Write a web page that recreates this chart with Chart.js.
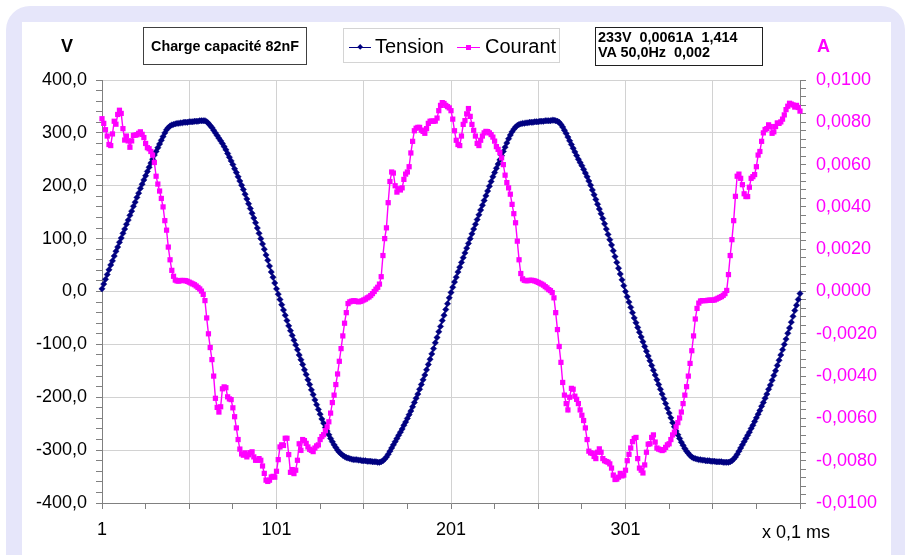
<!DOCTYPE html>
<html><head><meta charset="utf-8">
<script src="https://cdn.jsdelivr.net/npm/chart.js@4/dist/chart.umd.min.js"></script>
<style>
html,body{margin:0;padding:0;background:#fff;width:911px;height:555px;overflow:hidden;font-family:"Liberation Sans",Arial,sans-serif;}
#frame{position:absolute;left:6px;top:6px;width:899px;height:640px;background:#E6E6FA;border-radius:24px;}
#panel{position:absolute;left:22px;top:22px;width:869px;height:600px;background:#fff;}
canvas{position:absolute;left:0;top:0;}
.t{position:absolute;white-space:pre;}
.box{position:absolute;box-sizing:border-box;}
</style></head><body>
<div id="frame"></div><div id="panel"></div>
<canvas id="c" width="911" height="555"></canvas>

<div class="t" style="left:61px;top:37px;font:bold 18px/18px 'Liberation Sans';color:#000;">V</div>
<div class="t" style="left:817px;top:37px;font:bold 18px/18px 'Liberation Sans';color:#FF00FF;">A</div>

<div class="box" style="left:143px;top:27px;width:164px;height:38px;border:1px solid #404040;display:flex;align-items:center;justify-content:center;">
  <span style="font:bold 14.3px 'Liberation Sans';white-space:pre;">Charge capacité 82nF</span>
</div>

<div class="box" style="left:343px;top:28px;width:217px;height:35px;border:1px solid #d4d4d4;"></div>
<div class="box" style="left:349px;top:46.5px;width:22px;height:1.6px;background:#000080;"></div>
<div class="box" style="left:357.8px;top:45.1px;width:4.4px;height:4.4px;background:#000080;transform:rotate(45deg);"></div>
<div class="t" style="left:375px;top:36.4px;font:20px/20px 'Liberation Sans';color:#000;">Tension</div>
<div class="box" style="left:457px;top:46.5px;width:23px;height:1.6px;background:#FF00FF;"></div>
<div class="box" style="left:466px;top:44.8px;width:5px;height:5px;background:#FF00FF;"></div>
<div class="t" style="left:485px;top:36.4px;font:20px/20px 'Liberation Sans';color:#000;">Courant</div>

<div class="box" style="left:595px;top:27px;width:168px;height:39px;border:1px solid #202020;"></div>
<div class="t" style="left:598px;top:30.4px;font:bold 14.4px/14.6px 'Liberation Sans';color:#000;">233V  0,0061A  1,414
VA 50,0Hz  0,002</div>

<div class="t" style="left:762px;top:523px;font:18px/18px 'Liberation Sans';color:#000;">x 0,1 ms</div>

<script>
// Sample numbers (x 0,1 ms) – category axis
const sampleIndex = Array.from({length: 401}, (_, i) => i + 1);

// Tension (V), one value per sample
const tension = [
5,14,23,32,41,50,58,67,76,84,
93,101,110,118,127,135,144,152,161,169,
178,186,195,203,211,219,227,235,243,250,
258,265,272,279,286,293,300,306,310,313,
315,316,317,318,318,319,319,320,320,320,
321,321,321,322,322,322,323,323,323,323,
321,318,314,310,305,300,295,290,285,280,
274,268,261,254,247,240,232,225,217,209,
201,193,184,175,166,157,148,139,130,120,
110,100,90,80,69,59,48,37,27,16,
5,-5,-15,-25,-35,-45,-55,-65,-74,-83,
-92,-101,-110,-120,-129,-138,-148,-157,-167,-176,
-186,-195,-205,-214,-223,-232,-241,-249,-257,-264,
-271,-278,-284,-290,-295,-300,-304,-307,-310,-312,
-314,-315,-316,-317,-318,-318,-318,-319,-319,-320,
-320,-320,-321,-321,-321,-322,-322,-322,-323,-323,
-322,-320,-317,-313,-308,-302,-296,-290,-284,-278,
-272,-266,-260,-253,-247,-240,-233,-226,-218,-210,
-202,-194,-185,-176,-167,-158,-148,-138,-128,-118,
-108,-97,-87,-76,-66,-55,-45,-34,-23,-12,
-2,8,18,27,37,46,55,64,73,82,
91,100,109,118,127,136,145,154,163,172,
181,190,199,208,217,225,233,241,249,257,
265,273,281,289,296,302,307,311,314,316,
317,318,318,319,319,320,320,320,321,321,
321,322,322,322,323,323,323,323,324,324,
323,322,320,316,311,305,299,292,285,278,
271,264,257,250,244,238,231,224,217,209,
201,192,183,174,165,156,147,138,128,118,
108,98,88,77,66,55,44,33,22,11,
0,-10,-20,-30,-40,-50,-59,-68,-77,-86,
-95,-104,-113,-122,-131,-140,-149,-158,-167,-176,
-185,-194,-203,-212,-221,-230,-239,-248,-256,-264,
-271,-278,-285,-291,-297,-302,-306,-310,-313,-315,
-316,-317,-318,-318,-319,-319,-320,-320,-320,-321,
-321,-321,-322,-322,-322,-322,-323,-323,-323,-323,
-322,-320,-317,-313,-308,-302,-296,-290,-284,-278,
-272,-266,-259,-253,-246,-239,-232,-225,-217,-210,
-202,-194,-185,-177,-168,-159,-150,-140,-130,-120,
-110,-100,-90,-79,-69,-58,-47,-36,-26,-15,
-4
];

// Courant (A), one value per sample
const courant = [
0.00817,0.00795,0.00765,0.00735,0.00695,0.0069,0.00745,0.00805,0.00791,0.00837,
0.00857,0.00842,0.0077,0.00716,0.00735,0.00712,0.00682,0.00712,0.00738,0.00739,
0.00741,0.00748,0.00755,0.00743,0.00728,0.007,0.0068,0.00675,0.00662,0.00645,
0.0061,0.00545,0.00508,0.00475,0.0044,0.004,0.00335,0.0029,0.0021,0.0015,
0.001,0.00072,0.00054,0.0005,0.00049,0.00052,0.00052,0.00052,0.00051,0.00048,
0.00044,0.0004,0.00036,0.00032,0.00026,0.00019,0.00012,0.00002,-0.00014,-0.00043,
-0.00125,-0.002,-0.00265,-0.00322,-0.004,-0.00505,-0.00548,-0.0057,-0.00545,-0.0046,
-0.00451,-0.00455,-0.00498,-0.00508,-0.00511,-0.0055,-0.00592,-0.00645,-0.007,-0.00745,
-0.00768,-0.00774,-0.00763,-0.00782,-0.00772,-0.00762,-0.00758,-0.00782,-0.00798,-0.00798,
-0.0079,-0.00798,-0.00825,-0.0086,-0.00892,-0.00898,-0.00892,-0.00877,-0.00874,-0.00878,
-0.0085,-0.00795,-0.00735,-0.00725,-0.00728,-0.00694,-0.00694,-0.00771,-0.00855,-0.00842,
-0.00861,-0.00845,-0.00798,-0.0072,-0.00751,-0.007,-0.00705,-0.00718,-0.00735,-0.00746,
-0.00751,-0.00757,-0.0074,-0.0073,-0.00725,-0.007,-0.00686,-0.00677,-0.00658,-0.0064,
-0.00616,-0.00575,-0.00525,-0.0049,-0.0044,-0.0039,-0.0033,-0.0027,-0.0021,-0.0015,
-0.001,-0.00057,-0.00049,-0.00046,-0.00044,-0.00044,-0.00047,-0.00049,-0.00047,-0.00044,
-0.0004,-0.00036,-0.0003,-0.00026,-0.00019,-0.0001,0,0.00011,0.0002,0.00035,
0.0007,0.0017,0.0025,0.00301,0.0042,0.0052,0.00565,0.0056,0.005,0.0047,
0.00486,0.0048,0.0049,0.0053,0.00555,0.00565,0.0059,0.00655,0.0071,0.0076,
0.00772,0.00776,0.00776,0.00763,0.00757,0.00748,0.0077,0.00795,0.00805,0.00806,
0.00805,0.00806,0.0082,0.00855,0.0088,0.00893,0.00889,0.0088,0.00874,0.00868,
0.00855,0.00815,0.0076,0.00715,0.00695,0.0069,0.00735,0.0079,0.00808,0.0084,
0.00865,0.00828,0.0079,0.00762,0.00735,0.007,0.0069,0.00715,0.00735,0.0075,
0.00757,0.00756,0.0075,0.00742,0.0073,0.00711,0.00685,0.00672,0.00656,0.00632,
0.006,0.0055,0.00515,0.0049,0.0046,0.00412,0.00368,0.00325,0.00238,0.0015,
0.00085,0.0006,0.00053,0.00051,0.00051,0.00053,0.00053,0.00052,0.0005,0.00047,
0.00043,0.00039,0.00035,0.0003,0.00023,0.00017,0.00009,0.00004,-0.00005,-0.0003,
-0.001,-0.0018,-0.0026,-0.00335,-0.0043,-0.0049,-0.0053,-0.0056,-0.005,-0.00458,
-0.00462,-0.00495,-0.0051,-0.0053,-0.0056,-0.00585,-0.0061,-0.00645,-0.007,-0.00755,
-0.00763,-0.00765,-0.0078,-0.0079,-0.0076,-0.00744,-0.0076,-0.0079,-0.008,-0.00804,
-0.00807,-0.00815,-0.00835,-0.00868,-0.00889,-0.00887,-0.00878,-0.0086,-0.00872,-0.00868,
-0.00845,-0.008,-0.0077,-0.0074,-0.0071,-0.00695,-0.0069,-0.0079,-0.00835,-0.00845,
-0.00858,-0.0082,-0.0076,-0.00722,-0.0072,-0.0069,-0.00678,-0.00712,-0.0074,-0.00745,
-0.00748,-0.00752,-0.00748,-0.00737,-0.00725,-0.0072,-0.007,-0.00678,-0.00665,-0.0064,
-0.0062,-0.00598,-0.0057,-0.0053,-0.0049,-0.0045,-0.004,-0.0034,-0.0028,-0.0021,
-0.0013,-0.0008,-0.00055,-0.00045,-0.00043,-0.00043,-0.00043,-0.00042,-0.00041,-0.00041,
-0.00041,-0.0004,-0.00036,-0.00032,-0.00028,-0.00024,-0.00018,-0.0001,0.00005,0.0008,
0.0017,0.00245,0.00335,0.0045,0.00545,0.00555,0.00535,0.00505,0.00462,0.00449,
0.00449,0.00493,0.00535,0.00543,0.00553,0.0059,0.00645,0.00662,0.0071,0.0075,
0.00766,0.0077,0.00788,0.0078,0.00748,0.00755,0.0078,0.00797,0.00795,0.00802,
0.00815,0.00835,0.0086,0.00876,0.0089,0.00886,0.00882,0.00872,0.0088,0.0087,
0.00853
];

// Tick labels
const xTickLabels = [1, 101, 201, 301];
const voltTickLabels = [400, 300, 200, 100, 0, -100, -200, -300, -400];
const ampTickLabels = [0.0100, 0.0080, 0.0060, 0.0040, 0.0020, 0.0000, -0.0020, -0.0040, -0.0060, -0.0080, -0.0100];

// minor tick positions
const xMinor = []; for (let v = 1; v <= 401; v += 25) xMinor.push(v);
const vMinor = []; for (let v = -400; v <= 400; v += 20) vMinor.push(v);
const aMinor = []; for (let k = -25; k <= 25; k++) aMinor.push(+(k * 0.0004).toFixed(4));

const FONT = 'Liberation Sans';
const isVoltLabel = v => voltTickLabels.some(t => Math.abs(t - v) < 1e-6);
const isAmpLabel = v => ampTickLabels.some(t => Math.abs(t - v) < 1e-9);

new Chart(document.getElementById('c'), {
  type: 'line',
  data: {
    datasets: [
      {
        label: 'Tension',
        data: sampleIndex.map((x, i) => ({x: x, y: tension[i]})),
        yAxisID: 'y',
        borderColor: '#000080',
        backgroundColor: '#000080',
        borderWidth: 1.3,
        pointStyle: 'rectRot',
        pointRadius: 3.2,
        pointBorderWidth: 0.4,
        pointBorderColor: '#000080',
        pointBackgroundColor: '#000080',
        tension: 0,
        order: 2,
        clip: false
      },
      {
        label: 'Courant',
        data: sampleIndex.map((x, i) => ({x: x, y: courant[i]})),
        yAxisID: 'y1',
        borderColor: '#FF00FF',
        backgroundColor: '#FF00FF',
        borderWidth: 1.4,
        pointStyle: 'rect',
        pointRadius: 3.7,
        pointBorderWidth: 0,
        pointBackgroundColor: '#FF00FF',
        tension: 0,
        order: 1,
        clip: false
      }
    ]
  },
  options: {
    responsive: false,
    animation: false,
    devicePixelRatio: 1,
    layout: { padding: { top: 80, left: 0, right: 0, bottom: 0 } },
    plugins: { legend: { display: false }, tooltip: { enabled: false } },
    scales: {
      x: {
        type: 'linear',
        position: 'bottom',
        min: 1, max: 401,
        afterFit: s => { s.height = 52; },
        afterBuildTicks: s => { s.ticks = xMinor.map(v => ({value: v})); },
        grid: {
          color: c => (c.tick && (c.tick.value - 1) % 50 === 0) ? '#d2d2d2' : 'rgba(0,0,0,0)',
          tickColor: '#808080',
          tickLength: 6,
          lineWidth: 1
        },
        border: { color: '#808080', width: 1 },
        ticks: {
          autoSkip: false, maxRotation: 0, minRotation: 0, padding: 10,
          color: '#000', font: { family: FONT, size: 18 },
          callback: v => xTickLabels.includes(v) ? String(v) : ''
        }
      },
      y: {
        position: 'left',
        min: -400, max: 400,
        afterFit: s => { s.width = 102; },
        afterBuildTicks: s => { s.ticks = vMinor.map(v => ({value: v})); },
        grid: {
          color: c => (c.tick && isVoltLabel(c.tick.value)) ? '#d2d2d2' : 'rgba(0,0,0,0)',
          tickColor: '#808080',
          tickLength: 6,
          lineWidth: 1
        },
        border: { color: '#808080', width: 1 },
        ticks: {
          autoSkip: false, padding: 9,
          color: '#000', font: { family: FONT, size: 18 },
          callback: v => isVoltLabel(v) ? v.toFixed(1).replace('.', ',') : ''
        }
      },
      y1: {
        position: 'right',
        min: -0.01, max: 0.01,
        afterFit: s => { s.width = 111; },
        afterBuildTicks: s => { s.ticks = aMinor.map(v => ({value: v})); },
        grid: {
          drawOnChartArea: false,
          tickColor: '#808080',
          tickLength: 6,
          lineWidth: 1
        },
        border: { color: '#808080', width: 1 },
        ticks: {
          autoSkip: false, padding: 10,
          color: '#FF00FF', font: { family: FONT, size: 18 },
          callback: v => isAmpLabel(v) ? (Math.abs(v) < 1e-9 ? 0 : v).toFixed(4).replace('.', ',') : ''
        }
      }
    }
  }
});
</script>
</body></html>
